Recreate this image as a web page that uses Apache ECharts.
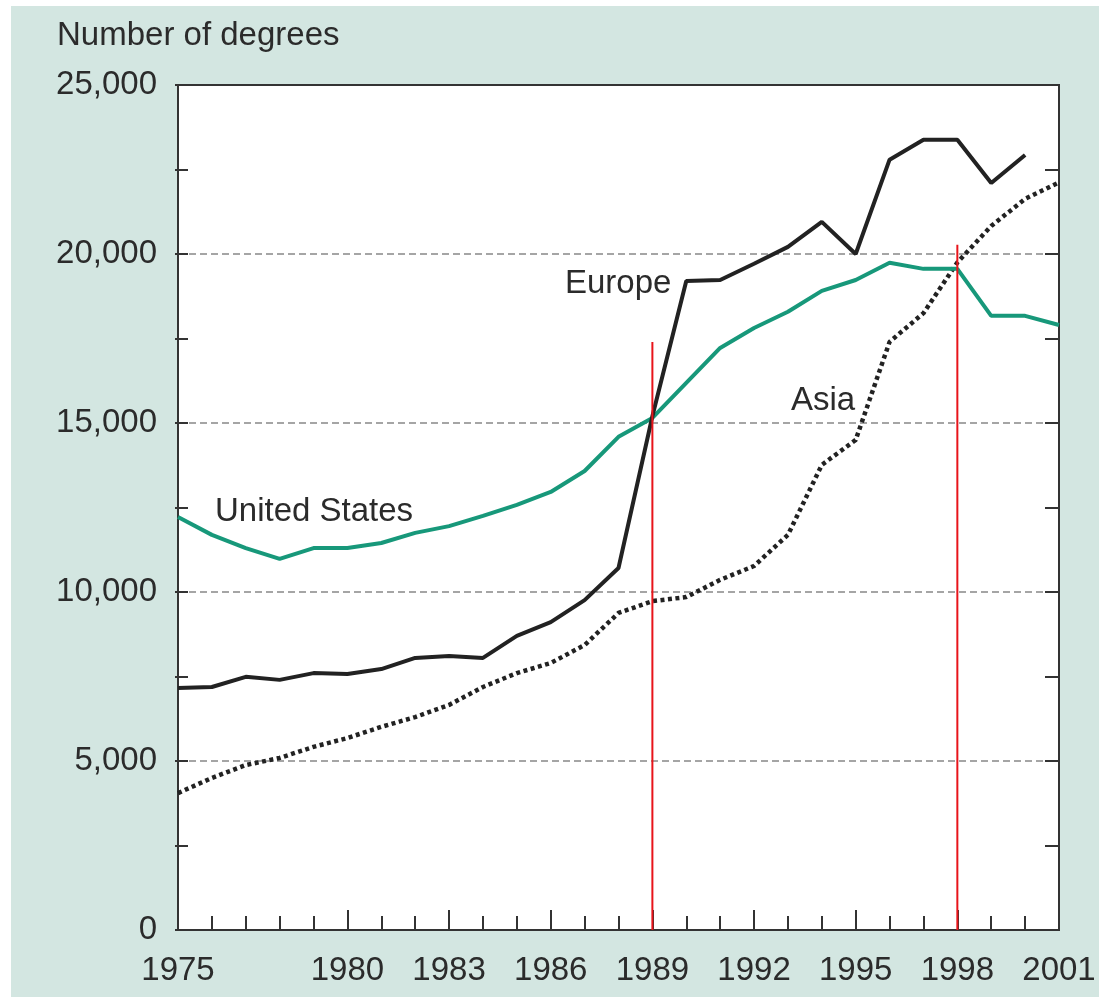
<!DOCTYPE html>
<html>
<head>
<meta charset="utf-8">
<script src="https://cdn.jsdelivr.net/npm/echarts@6/dist/echarts.min.js"></script>
<style>
html,body{margin:0;padding:0;background:#fff;}
#bg{position:absolute;left:11px;top:6px;right:0;bottom:0;background:#d3e6e1;}
#chart{position:absolute;left:0;top:0;width:1099px;height:997px;}
</style>
</head>
<body>
<div id="bg"></div>
<div id="chart"></div>
<script>
const years = [1975,1976,1977,1978,1979,1980,1981,1982,1983,1984,1985,1986,1987,1988,1989,1990,1991,1992,1993,1994,1995,1996,1997,1998,1999,2000,2001];
const unitedStates = [12220,11690,11300,10980,11300,11300,11450,11750,11950,12250,12580,12960,13580,14590,15150,16190,17220,17810,18290,18910,19230,19740,19560,19560,18170,18170,17900];
const europe = [7160,7190,7490,7400,7600,7575,7720,8050,8110,8050,8700,9110,9760,10710,15200,19200,19230,19710,20210,20950,20000,22790,23380,23380,22100,22930,null];
const asia = [4050,4500,4880,5090,5420,5680,6010,6300,6660,7190,7600,7900,8430,9380,9730,9850,10360,10770,11690,13760,14500,17400,18250,19750,20830,21630,22120];
const xLabelYears = [1975,1980,1983,1986,1989,1992,1995,1998,2001];
const xMajorTickYears = [1980,1983,1986,1989,1992,1995,1998];
const markerYears = [1989,1998];
const markerTops = [17400,20270];
const seriesNames = ['United States','Europe','Asia'];
const yTitle = 'Number of degrees';

const FONT = '"Liberation Sans", Arial, Helvetica, sans-serif';
const TXT = '#2b2b2b';
const FS = 33;

const pair = (arr) => years.map((y,i) => [y, arr[i]]);

const chart = echarts.init(document.getElementById('chart'), null, {renderer:'canvas'});
const option = {
  animation: false,
  backgroundColor: 'transparent',
  grid: {left:178, right:40, top:85, bottom:67, show:true, backgroundColor:'#fff', borderColor:'#333', borderWidth:2},
  xAxis: [
    {type:'value', min:1975, max:2001, interval:1, position:'bottom',
     axisLine:{show:true, lineStyle:{color:'#333', width:2}},
     axisTick:{show:true, inside:true, length:14, lineStyle:{color:'#333', width:2}, customValues: years},
     axisLabel:{show:true, customValues: xLabelYears, margin:24, fontSize:FS, fontFamily:FONT, color:TXT, formatter: v => String(v)},
     splitLine:{show:false}},
    {type:'value', min:1975, max:2001, interval:1, position:'bottom',
     axisLine:{show:false},
     axisTick:{show:true, inside:true, length:20, lineStyle:{color:'#333', width:2}, customValues: xMajorTickYears},
     axisLabel:{show:false}, splitLine:{show:false}}
  ],
  yAxis: [
    {type:'value', min:0, max:25000, interval:5000, position:'left',
     axisLine:{show:true, lineStyle:{color:'#333', width:2}},
     axisTick:{show:false},
     axisLabel:{margin:21, fontSize:FS, fontFamily:FONT, color:TXT, formatter: v => v.toLocaleString('en-US')},
     splitLine:{show:true, showMinLine:false, showMaxLine:false, lineStyle:{color:'#888', width:1.5, type:[7,4]}}},
    {type:'value', min:0, max:25000, interval:2500, position:'left',
     axisLine:{show:false},
     axisTick:{show:true, inside:true, length:10, lineStyle:{color:'#333', width:2}},
     axisLabel:{show:false}, splitLine:{show:false}},
    {type:'value', min:0, max:25000, interval:2500, position:'left',
     axisLine:{show:false},
     axisTick:{show:true, inside:false, length:3, lineStyle:{color:'#333', width:2}},
     axisLabel:{show:false}, splitLine:{show:false}},
    {type:'value', min:0, max:25000, interval:2500, position:'right',
     axisLine:{show:true, lineStyle:{color:'#333', width:2}},
     axisTick:{show:true, inside:true, length:14, lineStyle:{color:'#333', width:2}},
     axisLabel:{show:false}, splitLine:{show:false}}
  ],
  series: [
    {name:seriesNames[2], type:'line', data:pair(asia), showSymbol:false, symbol:'none',
     lineStyle:{color:'#222', width:4.5, type:[4,3.5], cap:'butt'}, z:3},
    {name:seriesNames[0], type:'line', data:pair(unitedStates), showSymbol:false, symbol:'none',
     lineStyle:{color:'#17987a', width:4}, z:4},
    {name:seriesNames[1], type:'line', data:pair(europe), showSymbol:false, symbol:'none', connectNulls:false,
     lineStyle:{color:'#222', width:4}, z:5},
    {name:'m1', type:'line', data:[[markerYears[0],0],[markerYears[0],markerTops[0]]], showSymbol:false, symbol:'none',
     lineStyle:{color:'#e8141a', width:2}, z:6},
    {name:'m2', type:'line', data:[[markerYears[1],0],[markerYears[1],markerTops[1]]], showSymbol:false, symbol:'none',
     lineStyle:{color:'#e8141a', width:2}, z:6}
  ],
  graphic: [
    {type:'text', x:57, y:36, style:{text:yTitle, font:FS+'px '+FONT, fill:TXT, align:'left', verticalAlign:'middle'}},
    {type:'text', x:565, y:284, z:10, style:{text:seriesNames[1], font:FS+'px '+FONT, fill:TXT, align:'left', verticalAlign:'middle'}},
    {type:'text', x:215, y:512, z:10, style:{text:seriesNames[0], font:FS+'px '+FONT, fill:TXT, align:'left', verticalAlign:'middle'}},
    {type:'text', x:791, y:401, z:10, style:{text:seriesNames[2], font:FS+'px '+FONT, fill:TXT, align:'left', verticalAlign:'middle'}}
  ]
};
chart.setOption(option);
</script>
</body>
</html>
